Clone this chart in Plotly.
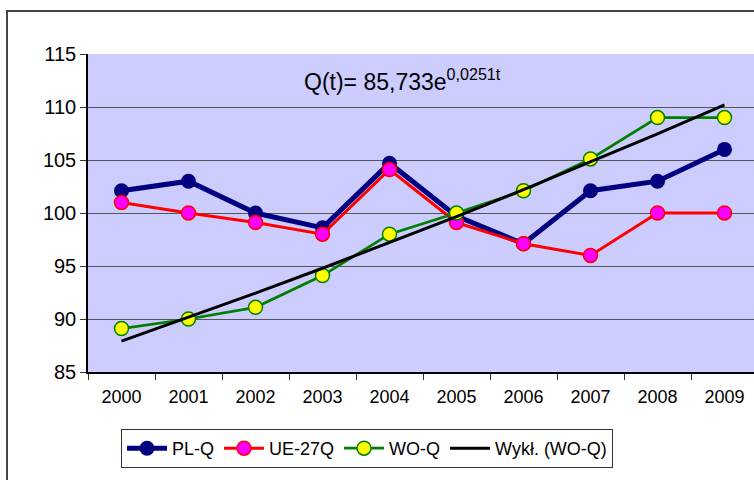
import numpy as np
import plotly.graph_objects as go

years = ["2000", "2001", "2002", "2003", "2004", "2005", "2006", "2007", "2008", "2009"]
pl_q = [102.1, 103.0, 100.0, 98.6, 104.7, 99.7, 97.1, 102.1, 103.0, 106.0]
ue27_q = [101.0, 100.0, 99.1, 98.0, 104.1, 99.1, 97.1, 96.0, 100.0, 100.0]
wo_q = [89.1, 90.0, 91.1, 94.1, 98.0, 100.0, 102.1, 105.1, 109.0, 109.0]
trend_a = 85.733
trend_b = 0.0251
t = np.arange(1, len(years) + 1)
trend = trend_a * np.exp(trend_b * t)

FONT = "Liberation Sans, Arial, sans-serif"

W, H = 754, 480
PL, PR, PT, PB = 88, 754, 54, 372   # plot area in page pixels
PW, PH = PR - PL, PB - PT


def px(x):
    return (x - PL) / PW


def py(y):
    return (PB - y) / PH


fig = go.Figure()
fig.add_trace(go.Scatter(x=years, y=pl_q, name="PL-Q", mode="lines+markers",
                         line=dict(color="#000080", width=5),
                         marker=dict(color="#000080", size=15, line=dict(color="#000080", width=0))))
fig.add_trace(go.Scatter(x=years, y=ue27_q, name="UE-27Q", mode="lines+markers",
                         line=dict(color="#FF0000", width=3),
                         marker=dict(color="#FF00FF", size=14, line=dict(color="#FF0000", width=1.5))))
fig.add_trace(go.Scatter(x=years, y=wo_q, name="WO-Q", mode="lines+markers",
                         line=dict(color="#008000", width=2.7),
                         marker=dict(color="#FFFF00", size=14, line=dict(color="#008000", width=1.5))))
fig.add_trace(go.Scatter(x=years, y=trend, name="Wykł. (WO-Q)", mode="lines",
                         line=dict(color="#000000", width=3)))

fig.update_layout(
    width=W, height=H,
    margin=dict(l=PL, r=W - PR, t=PT, b=H - PB, pad=0),
    paper_bgcolor="white", plot_bgcolor="#CCCCFF",
    font=dict(family=FONT, size=18, color="black"),
    showlegend=True,
    legend=dict(orientation="h", x=px(367), y=py(448.5), xanchor="center", yanchor="middle",
                bordercolor="#333333", borderwidth=1, bgcolor="white",
                font=dict(size=18), traceorder="normal", itemwidth=40),
    xaxis=dict(type="category", range=[-0.5, 9.44], tickson="boundaries",
               ticks="outside", ticklen=6, tickcolor="#333333",
               showline=True, linecolor="black", linewidth=1.5,
               showgrid=False, tickfont=dict(size=18), ticklabelstandoff=8),
    yaxis=dict(range=[85, 115], dtick=5, tick0=85, ticks="outside", ticklen=6,
               tickcolor="#333333", showline=True, linecolor="black", linewidth=1.5,
               showgrid=True, gridcolor="#555555", gridwidth=1, zeroline=False,
               tickfont=dict(size=20)),
    annotations=[dict(text="Q(t)= 85,733e<sup>0,0251t</sup>", xref="paper", yref="paper",
                      x=px(302), y=py(80), xanchor="left", yanchor="middle",
                      showarrow=False, font=dict(size=23, family=FONT, color="black"))],
    shapes=[dict(type="rect", xref="paper", yref="paper",
                 x0=px(7), x1=1.2, y0=-0.5, y1=py(11),
                 line=dict(color="#444444", width=2), layer="below")],
)

fig.write_html(
    "out.html",
    config={"displayModeBar": False},
    post_script="document.body.style.margin='0';document.documentElement.style.overflow='hidden';document.body.style.overflow='hidden';",
)
